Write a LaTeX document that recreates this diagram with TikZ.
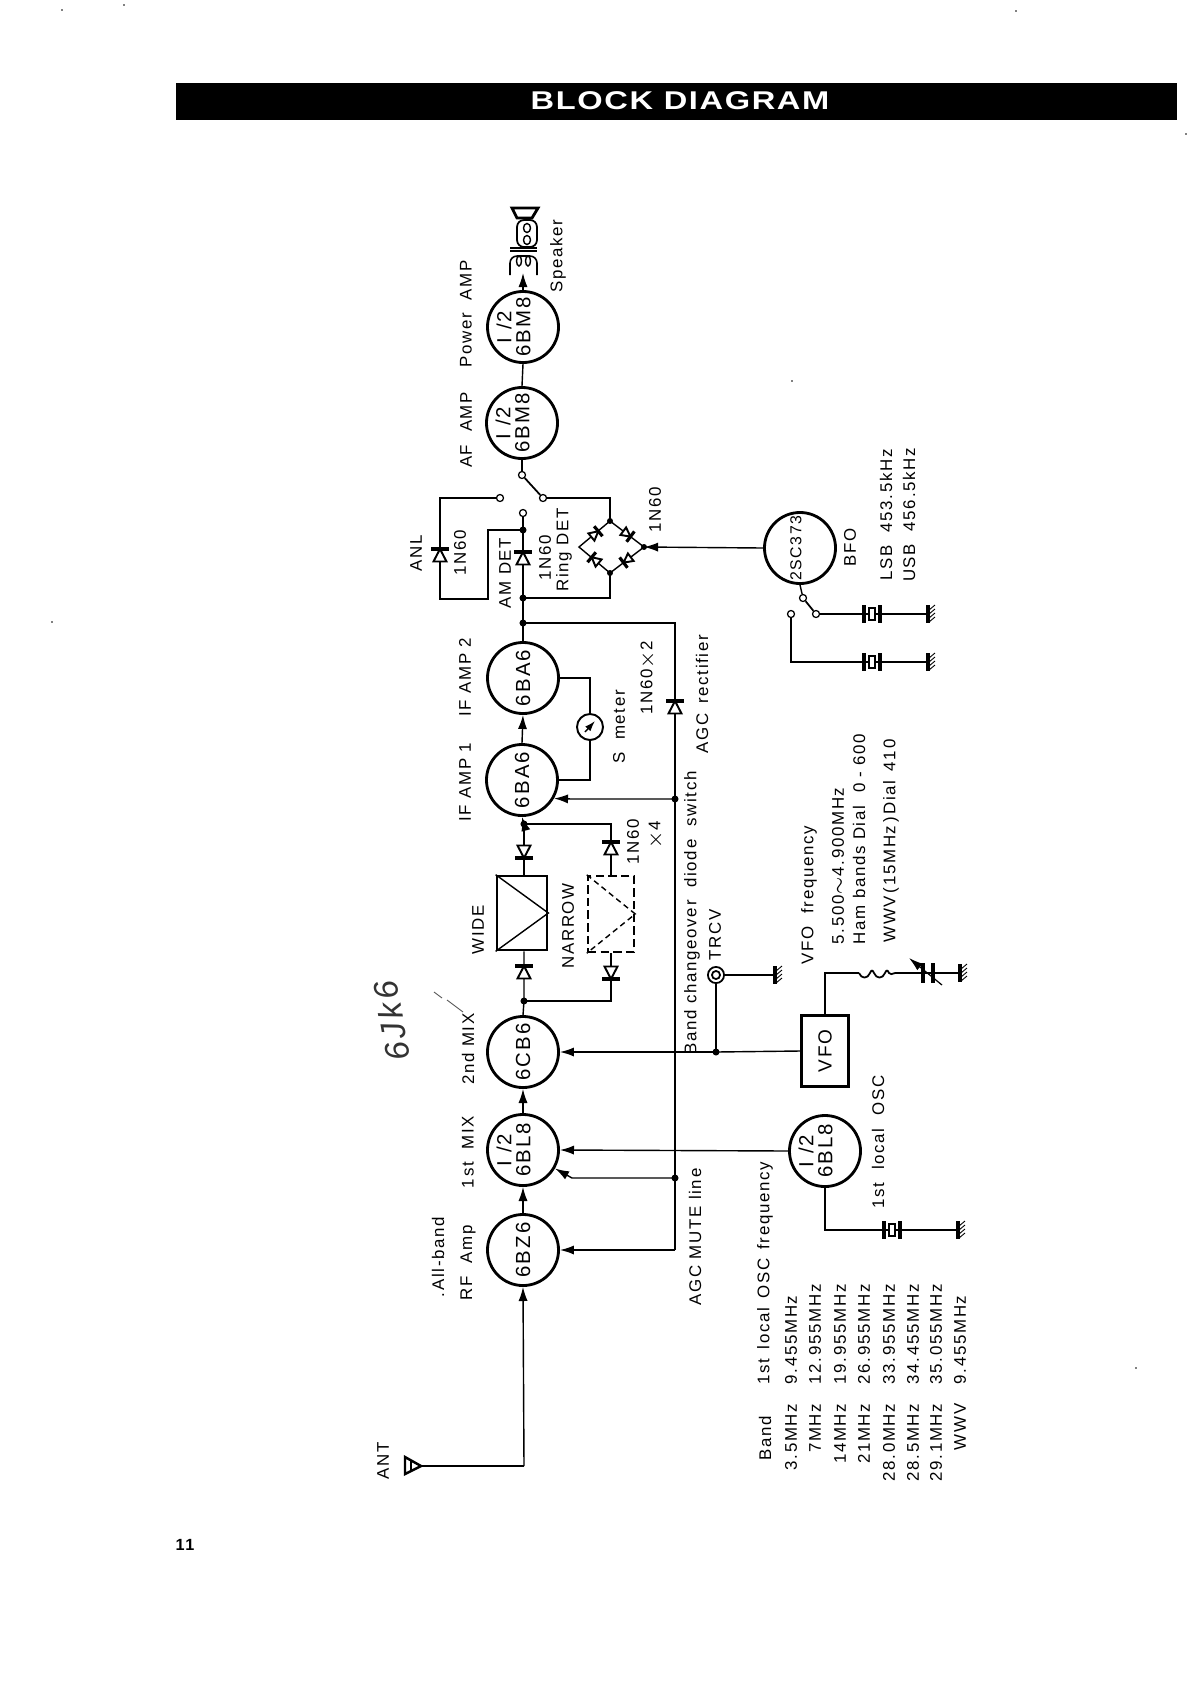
\documentclass[tikz,border=0pt]{standalone}
\usepackage{fontspec}
\setmainfont[LetterSpace=10]{Liberation Sans}
\newfontfamily\titlefont[LetterSpace=5]{Liberation Sans}
\usetikzlibrary{arrows.meta}

\tikzset{
    wire/.style={line width=0.4pt},
    feed/.style={line width=0.4pt,-{Latex[length=4pt,width=2.6pt]}},
    tube/.style={draw,circle,line width=0.8pt,minimum size=20.2pt,inner sep=-4pt,font=\fontsize{5.8pt}{5.4pt}\selectfont,align=center,rotate=90},
    lab/.style={rotate=90,inner sep=0pt,font=\fontsize{4.8pt}{5.6pt}\selectfont},
    dot/.style={circle,fill,inner sep=0pt,minimum size=2pt},
    post/.style={circle,draw,fill=white,line width=0.35pt,inner sep=0pt,minimum size=2pt},
    speck/.style={circle,fill,inner sep=0pt,minimum size=0.5pt},
    diode/.pic={
        \draw[line width=0.55pt,fill=white] (-6.5,6.5) -- (6.5,6.5) -- (0,-6) -- cycle;
        \draw[line width=0.9pt] (-9,-6) -- (9,-6);
    },
    gnd/.pic={
        \draw[line width=0.9pt] (0,-9) -- (0,9);
        \foreach \k in {-6,-2,2,6}
            \draw[line width=0.25pt] (7,\k-3) -- (1,\k+2);
    },
    xtal/.pic={
        \draw[line width=0.9pt] (-8,-9) -- (-8,9);
        \draw[line width=0.9pt] (8,-9) -- (8,9);
        \draw[line width=0.3pt,fill=white] (-3,-6) rectangle (3,6);
    },
}

\begin{document}
\begin{tikzpicture}[x=0.01cm,y=-0.01cm]
    \useasboundingbox (0,0) rectangle (1190,1684);

    % 标题栏
    \fill (176,83) rectangle (1177,120);
    \node[text=white,inner sep=0pt,font=\titlefont\bfseries\fontsize{7.3pt}{8pt}\selectfont,xscale=1.27] (title) at (680,101) {BLOCK DIAGRAM};
    \node[inner sep=0pt,font=\bfseries\fontsize{4.6pt}{5pt}\selectfont] (pageno) at (185,1545) {11};

    % 电子管
    \node[tube] (rfamp) at (523,1250) {6BZ6};
    \node[tube] (mixa) at (523,1150) {I /2\\6BL8\\\mbox{}};
    \node[tube] (mixb) at (523,1052) {6CB6};
    \node[tube] (ifa) at (522,780) {6BA6};
    \node[tube] (ifb) at (523,678) {6BA6};
    \node[tube] (afamp) at (522,423) {I /2\\6BM8\\\mbox{}};
    \node[tube] (pwramp) at (523,327) {I /2\\6BM8\\\mbox{}};
    \node[tube] (osc) at (825,1151) {I /2\\6BL8\\\mbox{}};
    \node[tube] (bfo) at (800,548) {};
    \node[lab,font=\fontsize{4.5pt}{6pt}\selectfont] (bfotype) at (796,548) {2SC373};

    % 滤波器和 VFO
    \node[draw,line width=0.8pt,minimum width=14.2pt,minimum height=21pt,inner sep=0pt] (wide) at (522,913) {};
    \node[draw,dash pattern=on 2.4pt off 1.2pt,line width=0.7pt,minimum width=13.1pt,minimum height=21.6pt,inner sep=0pt] (narrow) at (611,914) {};
    \draw[wire] (wide.north west) -- (wide.east) -- (wide.south west);
    \draw[wire,dash pattern=on 1.6pt off 1.1pt] (narrow.north west) -- (narrow.east) -- (narrow.south west);
    \node[draw,line width=0.8pt,minimum width=13.4pt,minimum height=20.2pt,inner sep=0pt] (vfo) at (825,1051) {};
    \node[lab,font=\fontsize{5.4pt}{6pt}\selectfont] (vfotext) at (825,1051) {VFO};

    % 主信号通路
    \coordinate (ant) at (421,1466);
    \coordinate (antup) at (524,1466);
    \draw[wire,line width=0.55pt] (ant) -- (antup);
    \draw[feed] (antup) -- (rfamp.west);
    \draw[feed] (rfamp.east) -- (mixa.west);
    \draw[feed] (mixa.east) -- (mixb.west);
    \coordinate (jwa) at (524,1001);
    \coordinate (jwb) at (524,824);
    \draw[wire] (mixb.east) -- (jwa) -- (wide.south -| jwa);
    \draw[wire] (wide.north -| jwb) -- (jwb);
    \draw[feed] (jwb) -- (ifa.west);
    \draw[feed] (ifa.east) -- (ifb.west);
    \draw[wire] (afamp.east) -- (pwramp.west);
    \node[dot] at (jwa) {};
    \node[dot] at (jwb) {};
    \coordinate (nrb) at (611,1001);
    \coordinate (nra) at (611,824);
    \draw[wire] (jwa) -- (nrb) -- (narrow.south);
    \draw[wire] (narrow.north) -- (nra) -- (jwb);
    \pic at (524,852) [rotate=180] {diode};
    \pic at (524,972) {diode};
    \pic at (611,848) {diode};
    \pic at (611,973) [rotate=180] {diode};

    % 检波部分
    \coordinate (jif) at (523,623);
    \coordinate (jdet) at (523,598);
    \coordinate (jam) at (523,530);
    \node[post] (swam) at (523,513) {};
    \node[post] (swanl) at (500,498) {};
    \node[post] (swring) at (543,498) {};
    \node[post] (swaf) at (522,475) {};
    \draw[wire] (ifb.east) -- (jif) -- (jdet) -- (jam) -- (swam);
    \node[dot] at (jif) {};
    \node[dot] at (jdet) {};
    \node[dot] at (jam) {};
    \pic at (523,558) {diode};
    \draw[wire] (afamp.west) -- (swaf);
    \draw[line width=0.5pt] (swaf) -- (swring);
    \coordinate (anla) at (440,498);
    \coordinate (anlb) at (440,599);
    \coordinate (anlc) at (488,599);
    \coordinate (anld) at (488,530);
    \draw[wire] (swanl) -- (anla) -- (anlb) -- (anlc) -- (anld) -- (jam);
    \pic at (440,555) {diode};

    % 环形检波
    \coordinate (rtop) at (610,521);
    \coordinate (rright) at (644,547);
    \coordinate (rbot) at (610,573);
    \coordinate (rleft) at (579,547);
    \draw[wire] (rtop) -- (rright) -- (rbot) -- (rleft) -- cycle;
    \coordinate (rcorner) at (610,498);
    \coordinate (rcornerb) at (610,598);
    \draw[wire] (swring) -- (rcorner) -- (rtop);
    \draw[wire] (jdet) -- (rcornerb) -- (rbot);
    \node[dot,minimum size=1.7pt] at (rtop) {};
    \node[dot,minimum size=1.7pt] at (rbot) {};
    \node[dot,minimum size=1.7pt] at (rright) {};
    \draw[feed] (bfo.north) -- (rright);
    \pic at (595,534) [rotate=-50,scale=.72] {diode};
    \pic at (627,534) [rotate=-127,scale=.72] {diode};
    \pic at (627,560) [rotate=127,scale=.72] {diode};
    \pic at (595,560) [rotate=50,scale=.72] {diode};

    % BFO 晶体
    \node[post] (bfosw) at (803,598) {};
    \node[post] (bfolsb) at (816,614) {};
    \node[post] (bfousb) at (791,614) {};
    \draw[wire] (bfo.west) -- (bfosw);
    \draw[line width=0.5pt] (bfosw) -- (bfolsb);
    \coordinate (usbdown) at (791,662);
    \coordinate (xa) at (872,614);
    \coordinate (xb) at (872,662);
    \coordinate (ga) at (928,614);
    \coordinate (gb) at (928,662);
    \draw[wire] (bfolsb) -- (xa) -- (ga);
    \draw[wire] (bfousb) -- (usbdown) -- (xb) -- (gb);
    \pic at (xa) {xtal};
    \pic at (xb) {xtal};
    \pic at (ga) {gnd};
    \pic at (gb) {gnd};

    % S 表
    \node[draw,circle,line width=0.55pt,minimum size=7.4pt,inner sep=0pt] (meter) at (590,727) {};
    \draw[-{Latex[length=3pt,width=2pt]},line width=0.4pt] ([shift={(-5,5)}]meter.center) -- ([shift={(5,-6)}]meter.center);
    \coordinate (ma) at (590,678);
    \coordinate (mb) at (590,780);
    \draw[wire] (ifb.south) -- (ma) -- (meter);
    \draw[wire] (ifa.south) -- (mb) -- (meter);

    % AGC 线
    \coordinate (agctop) at (675,623);
    \coordinate (agcif) at (675,799);
    \coordinate (agcmix) at (675,1178);
    \coordinate (agcbot) at (675,1250);
    \draw[wire] (jif) -- (agctop) -- (agcif) -- (agcmix) -- (agcbot);
    \draw[feed] (agcbot) -- (rfamp.south);
    \node[dot] at (agcif) {};
    \node[dot] at (agcmix) {};
    \pic at (675,707) {diode};
    \coordinate (bendif) at (572,799);
    \coordinate (bendmix) at (572,1178);
    \draw[feed] (agcif) -- (bendif) -- (ifa.-120);
    \draw[feed] (agcmix) -- (bendmix) -- (mixa.-120);

    % VFO 和本振
    \coordinate (jvfo) at (716,1052);
    \node[draw,circle,line width=0.5pt,inner sep=0pt,minimum size=4.6pt] (trcv) at (716,975) {};
    \node[draw,circle,line width=0.5pt,inner sep=0pt,minimum size=2.3pt] (trcvin) at (trcv) {};
    \coordinate (gt) at (775,975);
    \draw[wire] (trcv) -- (gt);
    \pic at (gt) {gnd};
    \draw[wire] (jvfo) -- (trcv);
    \draw[wire] (vfo.west) -- (jvfo);
    \draw[feed] (jvfo) -- (mixb.south);
    \node[dot] at (jvfo) {};
    \draw[feed] (osc.north) -- (mixa.south);
    \coordinate (vfoa) at (825,973);
    \coordinate (coila) at (859,973);
    \coordinate (coilb) at (895,973);
    \coordinate (cap) at (928,973);
    \coordinate (gv) at (960,973);
    \draw[wire] (vfo.north) -- (vfoa) -- (coila);
    \draw[line width=0.5pt] (coila) to[out=-70,in=-110,looseness=1.5] (870,973) to[out=70,in=110,looseness=2.2] (874,973) to[out=-70,in=-110,looseness=1.5] (885,973) to[out=70,in=110,looseness=2.2] (889,973) to[out=-70,in=-160] (coilb);
    \draw[wire] (coilb) -- (cap) -- (gv);
    \draw[line width=0.9pt] (923,963) -- (923,983);
    \draw[line width=0.9pt] (933,963) -- (933,983);
    \draw[-{Latex[length=4pt,width=2.4pt]},line width=0.35pt] (942,985) -- (909,958);
    \pic at (gv) {gnd};
    \coordinate (osca) at (825,1230);
    \coordinate (oscx) at (892,1230);
    \coordinate (oscg) at (958,1230);
    \draw[wire] (osc.west) -- (osca) -- (oscx) -- (oscg);
    \pic at (oscx) {xtal};
    \pic at (oscg) {gnd};

    % 天线
    \draw[line width=0.7pt,fill=white] (405,1457) -- (ant) -- (405,1474) -- cycle;
    \draw[line width=0.35pt] (411,1461) -- (411,1471);

    % 扬声器
    \coordinate (spkin) at (523,273);
    \draw[feed] (pwramp.east) -- (spkin);
    \draw[line width=0.45pt,rounded corners=2] (510,275) -- (510,256) -- (537,256) -- (537,275);
    \draw[line width=0.4pt] (519,261) ellipse (2.5 and 5);
    \draw[line width=0.4pt] (528,261) ellipse (2.5 and 5);
    \draw[line width=0.5pt] (510,248) -- (537,248) (510,251) -- (537,251);
    \draw[line width=0.5pt,rounded corners=2] (517,220) rectangle (537,247);
    \draw[line width=0.4pt] (527,228) ellipse (3.5 and 4.5);
    \draw[line width=0.4pt] (527,240) ellipse (3.5 and 4.5);
    \draw[line width=0.8pt] (512,208) -- (538,208) -- (532,218) -- (517,218) -- cycle;

    % 文字标注
    \node[lab] (pwrlab) at (466,314) {Power \ AMP};
    \node[lab] (aflab) at (466,430) {AF \ AMP};
    \node[lab] (if2lab) at (465,677) {IF AMP 2};
    \node[lab] (if1lab) at (465,782) {IF AMP 1};
    \node[lab] (mix2lab) at (468,1049) {2nd MIX};
    \node[lab] (mix1lab) at (468,1152) {1st \ MIX};
    \node[lab] (rflab) at (468,1263) {RF \ Amp};
    \node[lab] (alllab) at (438,1257) {.All-band};
    \node[lab] (antlab) at (383,1461) {ANT};
    \node[lab] (spklab) at (558,256) {Speaker};
    \node[lab] (anllab) at (416,553) {ANL};
    \node[lab] (anldiode) at (460,553) {1N60};
    \node[lab] (amdet) at (505,573) {AM DET};
    \node[lab] (amdiode) at (545,558) {1N60};
    \node[lab] (ringlab) at (564,550) {Ring DET};
    \node[lab] (ringdiode) at (655,510) {1N60};
    \node[lab] (bfolab) at (850,547) {BFO};
    \node[lab] (lsblab) at (886,515) {LSB \ 453.5kHz};
    \node[lab] (usblab) at (909,515) {USB \ 456.5kHz};
    \node[lab] (slab) at (619,727) {S \ meter};
    \node[lab] (agcdiode) at (648,678) {1N60$\times$2};
    \node[lab] (agcrect) at (702,694) {AGC \,rectifier};
    \node[lab] (widelab) at (478,930) {WIDE};
    \node[lab] (narrowlab) at (568,926) {NARROW};
    \node[lab] (nardiode) at (633,842) {1N60};
    \node[lab] (narx) at (656,835) {$\times$4};
    \node[lab] (bandsw) at (692,913) {Band changeover \ diode \ switch};
    \node[lab] (trcvlab) at (715,935) {TRCV};
    \node[lab] (mutelab) at (695,1237) {AGC MUTE line};
    \node[lab] (vfoa1) at (809,895) {VFO \ frequency};
    \node[lab] (vfoa2) at (838,866) {5.500$\sim$4.900MHz};
    \node[lab] (vfoa3) at (859,839) {Ham bands Dial \ 0 - 600};
    \node[lab] (vfoa4) at (891,841) {WWV\,(15MHz\,)\,Dial \,410};
    \node[lab] (osclab) at (878,1142) {1st \ local \ OSC};

    % 频率表
    \node[lab,anchor=east] (bandh) at (765,1415) {Band};
    \node[lab,anchor=west] (freqh) at (765,1385) {1st \,local \,OSC \,frequency};
    \foreach \nm/\yy/\bd/\fq in {a/791/3.5MHz/9.455MHz,b/815/7MHz/12.955MHz,c/840/14MHz/19.955MHz,d/864/21MHz/26.955MHz,e/889/28.0MHz/33.955MHz,f/913/28.5MHz/34.455MHz,g/936/29.1MHz/35.055MHz,h/960/WWV/9.455MHz}{
        \node[lab,anchor=east] (band\nm) at (\yy,1403) {\bd};
        \node[lab,anchor=west] (freq\nm) at (\yy,1385) {\fq};
    }

    % 手写
    \node[rotate=100,inner sep=0pt,font=\itshape\fontsize{9.5pt}{10pt}\selectfont,text=black!80] (note) at (392,1021) {6Jk6};
    \draw[line width=0.25pt,black!70] (463,1012) -- (447,1000) (442,998) -- (434,992);

    % 扫描污点
    \foreach \sx/\sy in {792/381,62/10,124/5,1016/11,1186/134,52/622,1136/1368}
        \node[speck] at (\sx,\sy) {};
\end{tikzpicture}
\end{document}
